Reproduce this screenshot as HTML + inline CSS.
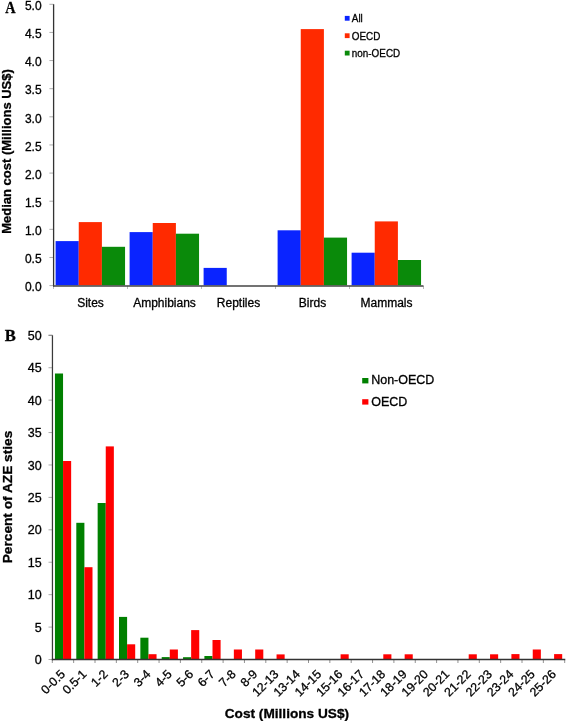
<!DOCTYPE html>
<html><head><meta charset="utf-8"><title>AZE cost chart</title>
<style>html,body{margin:0;padding:0;background:#fff;}body{width:566px;height:721px;overflow:hidden;font-family:"Liberation Sans",sans-serif;}svg{display:block;will-change:transform;}text{stroke:#000;stroke-width:0.3px;}</style>
</head><body>
<svg width="566" height="721" viewBox="0 0 566 721">
<rect width="566" height="721" fill="#fff"/>
<text transform="translate(5.3 12.9) scale(0.88 1)" font-family='"Liberation Serif", serif' font-weight="bold" font-size="16.2" fill="#000">A</text>
<text x="4.8" y="340.9" font-family='"Liberation Serif", serif' font-weight="bold" font-size="16.5" fill="#000">B</text>
<rect x="55.6" y="241.1" width="23.15" height="44.3" fill="#0a24ff"/>
<rect x="78.75" y="222.1" width="23.15" height="63.3" fill="#ff2a00"/>
<rect x="101.9" y="246.8" width="23.15" height="38.6" fill="#0a8a0a"/>
<rect x="129.6" y="232.1" width="23.15" height="53.3" fill="#0a24ff"/>
<rect x="152.75" y="223" width="23.15" height="62.4" fill="#ff2a00"/>
<rect x="175.9" y="233.7" width="23.15" height="51.7" fill="#0a8a0a"/>
<rect x="203.6" y="267.9" width="23.15" height="17.5" fill="#0a24ff"/>
<rect x="277.6" y="230.3" width="23.15" height="55.1" fill="#0a24ff"/>
<rect x="300.75" y="29.1" width="23.15" height="256.3" fill="#ff2a00"/>
<rect x="323.9" y="237.6" width="23.15" height="47.8" fill="#0a8a0a"/>
<rect x="351.6" y="252.7" width="23.15" height="32.7" fill="#0a24ff"/>
<rect x="374.75" y="221.4" width="23.15" height="64" fill="#ff2a00"/>
<rect x="397.9" y="260" width="23.15" height="25.4" fill="#0a8a0a"/>
<line x1="49.4" x2="53.6" y1="285.6" y2="285.6" stroke="#999" stroke-width="0.8"/>
<text x="41.6" y="291.3" font-family='"Liberation Sans", sans-serif' font-size="12" text-anchor="end" fill="#000">0.0</text>
<line x1="49.4" x2="53.6" y1="257.47" y2="257.47" stroke="#999" stroke-width="0.8"/>
<text x="41.6" y="263.17" font-family='"Liberation Sans", sans-serif' font-size="12" text-anchor="end" fill="#000">0.5</text>
<line x1="49.4" x2="53.6" y1="229.34" y2="229.34" stroke="#999" stroke-width="0.8"/>
<text x="41.6" y="235.04" font-family='"Liberation Sans", sans-serif' font-size="12" text-anchor="end" fill="#000">1.0</text>
<line x1="49.4" x2="53.6" y1="201.21" y2="201.21" stroke="#999" stroke-width="0.8"/>
<text x="41.6" y="206.91" font-family='"Liberation Sans", sans-serif' font-size="12" text-anchor="end" fill="#000">1.5</text>
<line x1="49.4" x2="53.6" y1="173.08" y2="173.08" stroke="#999" stroke-width="0.8"/>
<text x="41.6" y="178.78" font-family='"Liberation Sans", sans-serif' font-size="12" text-anchor="end" fill="#000">2.0</text>
<line x1="49.4" x2="53.6" y1="144.95" y2="144.95" stroke="#999" stroke-width="0.8"/>
<text x="41.6" y="150.65" font-family='"Liberation Sans", sans-serif' font-size="12" text-anchor="end" fill="#000">2.5</text>
<line x1="49.4" x2="53.6" y1="116.82" y2="116.82" stroke="#999" stroke-width="0.8"/>
<text x="41.6" y="122.52" font-family='"Liberation Sans", sans-serif' font-size="12" text-anchor="end" fill="#000">3.0</text>
<line x1="49.4" x2="53.6" y1="88.69" y2="88.69" stroke="#999" stroke-width="0.8"/>
<text x="41.6" y="94.39" font-family='"Liberation Sans", sans-serif' font-size="12" text-anchor="end" fill="#000">3.5</text>
<line x1="49.4" x2="53.6" y1="60.56" y2="60.56" stroke="#999" stroke-width="0.8"/>
<text x="41.6" y="66.26" font-family='"Liberation Sans", sans-serif' font-size="12" text-anchor="end" fill="#000">4.0</text>
<line x1="49.4" x2="53.6" y1="32.43" y2="32.43" stroke="#999" stroke-width="0.8"/>
<text x="41.6" y="38.13" font-family='"Liberation Sans", sans-serif' font-size="12" text-anchor="end" fill="#000">4.5</text>
<line x1="49.4" x2="53.6" y1="4.3" y2="4.3" stroke="#999" stroke-width="0.8"/>
<text x="41.6" y="10" font-family='"Liberation Sans", sans-serif' font-size="12" text-anchor="end" fill="#000">5.0</text>
<line x1="53.5" x2="53.5" y1="286" y2="289" stroke="#aaa" stroke-width="0.8"/>
<line x1="127.5" x2="127.5" y1="286" y2="289" stroke="#aaa" stroke-width="0.8"/>
<line x1="201.5" x2="201.5" y1="286" y2="289" stroke="#aaa" stroke-width="0.8"/>
<line x1="275.5" x2="275.5" y1="286" y2="289" stroke="#aaa" stroke-width="0.8"/>
<line x1="349.5" x2="349.5" y1="286" y2="289" stroke="#aaa" stroke-width="0.8"/>
<line x1="423.5" x2="423.5" y1="286" y2="289" stroke="#aaa" stroke-width="0.8"/>
<line x1="53.6" x2="53.6" y1="4.3" y2="286.4" stroke="#333" stroke-width="1.3"/>
<line x1="53" x2="423.5" y1="286" y2="286" stroke="#444" stroke-width="1.6"/>
<text x="90.5" y="306.8" font-family='"Liberation Sans", sans-serif' font-size="12" text-anchor="middle" fill="#000">Sites</text>
<text x="164.5" y="306.8" font-family='"Liberation Sans", sans-serif' font-size="12" text-anchor="middle" fill="#000">Amphibians</text>
<text x="238.5" y="306.8" font-family='"Liberation Sans", sans-serif' font-size="12" text-anchor="middle" fill="#000">Reptiles</text>
<text x="312.5" y="306.8" font-family='"Liberation Sans", sans-serif' font-size="12" text-anchor="middle" fill="#000">Birds</text>
<text x="386.5" y="306.8" font-family='"Liberation Sans", sans-serif' font-size="12" text-anchor="middle" fill="#000">Mammals</text>
<rect x="344.8" y="15.9" width="4.8" height="4.8" fill="#0a24ff"/>
<text transform="translate(351.8 22.3) scale(0.925 1)" font-family='"Liberation Sans", sans-serif' font-size="10.7" fill="#000">All</text>
<rect x="344.8" y="33.3" width="4.8" height="4.8" fill="#ff2a00"/>
<text transform="translate(351.8 39.7) scale(0.925 1)" font-family='"Liberation Sans", sans-serif' font-size="10.7" fill="#000">OECD</text>
<rect x="344.8" y="50.7" width="4.8" height="4.8" fill="#0a8a0a"/>
<text transform="translate(351.8 57.1) scale(0.925 1)" font-family='"Liberation Sans", sans-serif' font-size="10.7" fill="#000">non-OECD</text>
<text transform="translate(11.2 151.5) rotate(-90)" font-family='"Liberation Sans", sans-serif' font-weight="bold" font-size="13" text-anchor="middle" fill="#000">Median cost (Millions US$)</text>
<rect x="54.95" y="373.5" width="8.1" height="286" fill="#008000"/>
<rect x="63.05" y="461" width="8.1" height="198.5" fill="#ff0000"/>
<rect x="76.3" y="522.8" width="8.1" height="136.7" fill="#008000"/>
<rect x="84.4" y="567.2" width="8.1" height="92.3" fill="#ff0000"/>
<rect x="97.65" y="503" width="8.1" height="156.5" fill="#008000"/>
<rect x="105.75" y="446.4" width="8.1" height="213.1" fill="#ff0000"/>
<rect x="119" y="616.9" width="8.1" height="42.6" fill="#008000"/>
<rect x="127.1" y="644.3" width="8.1" height="15.2" fill="#ff0000"/>
<rect x="140.35" y="637.7" width="8.1" height="21.8" fill="#008000"/>
<rect x="148.45" y="654.2" width="8.1" height="5.3" fill="#ff0000"/>
<rect x="161.7" y="657.1" width="8.1" height="2.4" fill="#008000"/>
<rect x="169.8" y="649.5" width="8.1" height="10" fill="#ff0000"/>
<rect x="183.05" y="657.2" width="8.1" height="2.3" fill="#008000"/>
<rect x="191.15" y="630.1" width="8.1" height="29.4" fill="#ff0000"/>
<rect x="204.4" y="656" width="8.1" height="3.5" fill="#008000"/>
<rect x="212.5" y="640" width="8.1" height="19.5" fill="#ff0000"/>
<rect x="233.85" y="649.5" width="8.1" height="10" fill="#ff0000"/>
<rect x="255.2" y="649.5" width="8.1" height="10" fill="#ff0000"/>
<rect x="276.55" y="654.4" width="8.1" height="5.1" fill="#ff0000"/>
<rect x="340.6" y="654.3" width="8.1" height="5.2" fill="#ff0000"/>
<rect x="383.3" y="654.3" width="8.1" height="5.2" fill="#ff0000"/>
<rect x="404.65" y="654.3" width="8.1" height="5.2" fill="#ff0000"/>
<rect x="468.7" y="654.3" width="8.1" height="5.2" fill="#ff0000"/>
<rect x="490.05" y="654.3" width="8.1" height="5.2" fill="#ff0000"/>
<rect x="511.4" y="654.1" width="8.1" height="5.4" fill="#ff0000"/>
<rect x="532.75" y="649.5" width="8.1" height="10" fill="#ff0000"/>
<rect x="554.1" y="654.1" width="8.1" height="5.4" fill="#ff0000"/>
<line x1="48.5" x2="52.45" y1="659.5" y2="659.5" stroke="#999" stroke-width="0.8"/>
<text x="41.6" y="664.1" font-family='"Liberation Sans", sans-serif' font-size="12.5" text-anchor="end" fill="#000">0</text>
<line x1="48.5" x2="52.45" y1="627.08" y2="627.08" stroke="#999" stroke-width="0.8"/>
<text x="41.6" y="631.68" font-family='"Liberation Sans", sans-serif' font-size="12.5" text-anchor="end" fill="#000">5</text>
<line x1="48.5" x2="52.45" y1="594.66" y2="594.66" stroke="#999" stroke-width="0.8"/>
<text x="41.6" y="599.26" font-family='"Liberation Sans", sans-serif' font-size="12.5" text-anchor="end" fill="#000">10</text>
<line x1="48.5" x2="52.45" y1="562.24" y2="562.24" stroke="#999" stroke-width="0.8"/>
<text x="41.6" y="566.84" font-family='"Liberation Sans", sans-serif' font-size="12.5" text-anchor="end" fill="#000">15</text>
<line x1="48.5" x2="52.45" y1="529.82" y2="529.82" stroke="#999" stroke-width="0.8"/>
<text x="41.6" y="534.42" font-family='"Liberation Sans", sans-serif' font-size="12.5" text-anchor="end" fill="#000">20</text>
<line x1="48.5" x2="52.45" y1="497.4" y2="497.4" stroke="#999" stroke-width="0.8"/>
<text x="41.6" y="502" font-family='"Liberation Sans", sans-serif' font-size="12.5" text-anchor="end" fill="#000">25</text>
<line x1="48.5" x2="52.45" y1="464.98" y2="464.98" stroke="#999" stroke-width="0.8"/>
<text x="41.6" y="469.58" font-family='"Liberation Sans", sans-serif' font-size="12.5" text-anchor="end" fill="#000">30</text>
<line x1="48.5" x2="52.45" y1="432.56" y2="432.56" stroke="#999" stroke-width="0.8"/>
<text x="41.6" y="437.16" font-family='"Liberation Sans", sans-serif' font-size="12.5" text-anchor="end" fill="#000">35</text>
<line x1="48.5" x2="52.45" y1="400.14" y2="400.14" stroke="#999" stroke-width="0.8"/>
<text x="41.6" y="404.74" font-family='"Liberation Sans", sans-serif' font-size="12.5" text-anchor="end" fill="#000">40</text>
<line x1="48.5" x2="52.45" y1="367.72" y2="367.72" stroke="#999" stroke-width="0.8"/>
<text x="41.6" y="372.32" font-family='"Liberation Sans", sans-serif' font-size="12.5" text-anchor="end" fill="#000">45</text>
<line x1="48.5" x2="52.45" y1="335.3" y2="335.3" stroke="#999" stroke-width="0.8"/>
<text x="41.6" y="339.9" font-family='"Liberation Sans", sans-serif' font-size="12.5" text-anchor="end" fill="#000">50</text>
<line x1="52.3" x2="52.3" y1="660" y2="663" stroke="#777" stroke-width="0.8"/>
<line x1="73.65" x2="73.65" y1="660" y2="663" stroke="#777" stroke-width="0.8"/>
<line x1="95" x2="95" y1="660" y2="663" stroke="#777" stroke-width="0.8"/>
<line x1="116.35" x2="116.35" y1="660" y2="663" stroke="#777" stroke-width="0.8"/>
<line x1="137.7" x2="137.7" y1="660" y2="663" stroke="#777" stroke-width="0.8"/>
<line x1="159.05" x2="159.05" y1="660" y2="663" stroke="#777" stroke-width="0.8"/>
<line x1="180.4" x2="180.4" y1="660" y2="663" stroke="#777" stroke-width="0.8"/>
<line x1="201.75" x2="201.75" y1="660" y2="663" stroke="#777" stroke-width="0.8"/>
<line x1="223.1" x2="223.1" y1="660" y2="663" stroke="#777" stroke-width="0.8"/>
<line x1="244.45" x2="244.45" y1="660" y2="663" stroke="#777" stroke-width="0.8"/>
<line x1="265.8" x2="265.8" y1="660" y2="663" stroke="#777" stroke-width="0.8"/>
<line x1="287.15" x2="287.15" y1="660" y2="663" stroke="#777" stroke-width="0.8"/>
<line x1="308.5" x2="308.5" y1="660" y2="663" stroke="#777" stroke-width="0.8"/>
<line x1="329.85" x2="329.85" y1="660" y2="663" stroke="#777" stroke-width="0.8"/>
<line x1="351.2" x2="351.2" y1="660" y2="663" stroke="#777" stroke-width="0.8"/>
<line x1="372.55" x2="372.55" y1="660" y2="663" stroke="#777" stroke-width="0.8"/>
<line x1="393.9" x2="393.9" y1="660" y2="663" stroke="#777" stroke-width="0.8"/>
<line x1="415.25" x2="415.25" y1="660" y2="663" stroke="#777" stroke-width="0.8"/>
<line x1="436.6" x2="436.6" y1="660" y2="663" stroke="#777" stroke-width="0.8"/>
<line x1="457.95" x2="457.95" y1="660" y2="663" stroke="#777" stroke-width="0.8"/>
<line x1="479.3" x2="479.3" y1="660" y2="663" stroke="#777" stroke-width="0.8"/>
<line x1="500.65" x2="500.65" y1="660" y2="663" stroke="#777" stroke-width="0.8"/>
<line x1="522" x2="522" y1="660" y2="663" stroke="#777" stroke-width="0.8"/>
<line x1="543.35" x2="543.35" y1="660" y2="663" stroke="#777" stroke-width="0.8"/>
<line x1="564.7" x2="564.7" y1="660" y2="663" stroke="#777" stroke-width="0.8"/>
<line x1="52.45" x2="52.45" y1="335.3" y2="660.3" stroke="#3a3a3a" stroke-width="1.25"/>
<line x1="48.5" x2="52.45" y1="335.3" y2="335.3" stroke="#777" stroke-width="0.8"/>
<line x1="51.85" x2="565.3" y1="659.5" y2="659.5" stroke="#333" stroke-width="1.4"/>
<text transform="translate(65.88 675) rotate(-45)" font-family='"Liberation Sans", sans-serif' font-size="12.3" text-anchor="end" fill="#000">0-0.5</text>
<text transform="translate(87.23 675) rotate(-45)" font-family='"Liberation Sans", sans-serif' font-size="12.3" text-anchor="end" fill="#000">0.5-1</text>
<text transform="translate(108.58 675) rotate(-45)" font-family='"Liberation Sans", sans-serif' font-size="12.3" text-anchor="end" fill="#000">1-2</text>
<text transform="translate(129.93 675) rotate(-45)" font-family='"Liberation Sans", sans-serif' font-size="12.3" text-anchor="end" fill="#000">2-3</text>
<text transform="translate(151.28 675) rotate(-45)" font-family='"Liberation Sans", sans-serif' font-size="12.3" text-anchor="end" fill="#000">3-4</text>
<text transform="translate(172.63 675) rotate(-45)" font-family='"Liberation Sans", sans-serif' font-size="12.3" text-anchor="end" fill="#000">4-5</text>
<text transform="translate(193.97 675) rotate(-45)" font-family='"Liberation Sans", sans-serif' font-size="12.3" text-anchor="end" fill="#000">5-6</text>
<text transform="translate(215.33 675) rotate(-45)" font-family='"Liberation Sans", sans-serif' font-size="12.3" text-anchor="end" fill="#000">6-7</text>
<text transform="translate(236.68 675) rotate(-45)" font-family='"Liberation Sans", sans-serif' font-size="12.3" text-anchor="end" fill="#000">7-8</text>
<text transform="translate(258.02 675) rotate(-45)" font-family='"Liberation Sans", sans-serif' font-size="12.3" text-anchor="end" fill="#000">8-9</text>
<text transform="translate(279.38 675) rotate(-45)" font-family='"Liberation Sans", sans-serif' font-size="12.3" text-anchor="end" fill="#000">12-13</text>
<text transform="translate(300.72 675) rotate(-45)" font-family='"Liberation Sans", sans-serif' font-size="12.3" text-anchor="end" fill="#000">13-14</text>
<text transform="translate(322.07 675) rotate(-45)" font-family='"Liberation Sans", sans-serif' font-size="12.3" text-anchor="end" fill="#000">14-15</text>
<text transform="translate(343.43 675) rotate(-45)" font-family='"Liberation Sans", sans-serif' font-size="12.3" text-anchor="end" fill="#000">15-16</text>
<text transform="translate(364.78 675) rotate(-45)" font-family='"Liberation Sans", sans-serif' font-size="12.3" text-anchor="end" fill="#000">16-17</text>
<text transform="translate(386.12 675) rotate(-45)" font-family='"Liberation Sans", sans-serif' font-size="12.3" text-anchor="end" fill="#000">17-18</text>
<text transform="translate(407.48 675) rotate(-45)" font-family='"Liberation Sans", sans-serif' font-size="12.3" text-anchor="end" fill="#000">18-19</text>
<text transform="translate(428.82 675) rotate(-45)" font-family='"Liberation Sans", sans-serif' font-size="12.3" text-anchor="end" fill="#000">19-20</text>
<text transform="translate(450.18 675) rotate(-45)" font-family='"Liberation Sans", sans-serif' font-size="12.3" text-anchor="end" fill="#000">20-21</text>
<text transform="translate(471.53 675) rotate(-45)" font-family='"Liberation Sans", sans-serif' font-size="12.3" text-anchor="end" fill="#000">21-22</text>
<text transform="translate(492.88 675) rotate(-45)" font-family='"Liberation Sans", sans-serif' font-size="12.3" text-anchor="end" fill="#000">22-23</text>
<text transform="translate(514.23 675) rotate(-45)" font-family='"Liberation Sans", sans-serif' font-size="12.3" text-anchor="end" fill="#000">23-24</text>
<text transform="translate(535.58 675) rotate(-45)" font-family='"Liberation Sans", sans-serif' font-size="12.3" text-anchor="end" fill="#000">24-25</text>
<text transform="translate(556.92 675) rotate(-45)" font-family='"Liberation Sans", sans-serif' font-size="12.3" text-anchor="end" fill="#000">25-26</text>
<rect x="362.2" y="378" width="6.2" height="5.4" fill="#008000"/>
<text x="371.2" y="384.4" font-family='"Liberation Sans", sans-serif' font-size="12.5" fill="#000">Non-OECD</text>
<rect x="362.2" y="399.2" width="6.2" height="5.4" fill="#ff0000"/>
<text x="371.2" y="405.6" font-family='"Liberation Sans", sans-serif' font-size="12.5" fill="#000">OECD</text>
<text transform="translate(12.2 497) rotate(-90)" font-family='"Liberation Sans", sans-serif' font-weight="bold" font-size="13.7" text-anchor="middle" fill="#000">Percent of AZE sties</text>
<text x="286.9" y="717.6" font-family='"Liberation Sans", sans-serif' font-weight="bold" font-size="13.65" text-anchor="middle" fill="#000">Cost (Millions US$)</text>
</svg>
</body></html>
